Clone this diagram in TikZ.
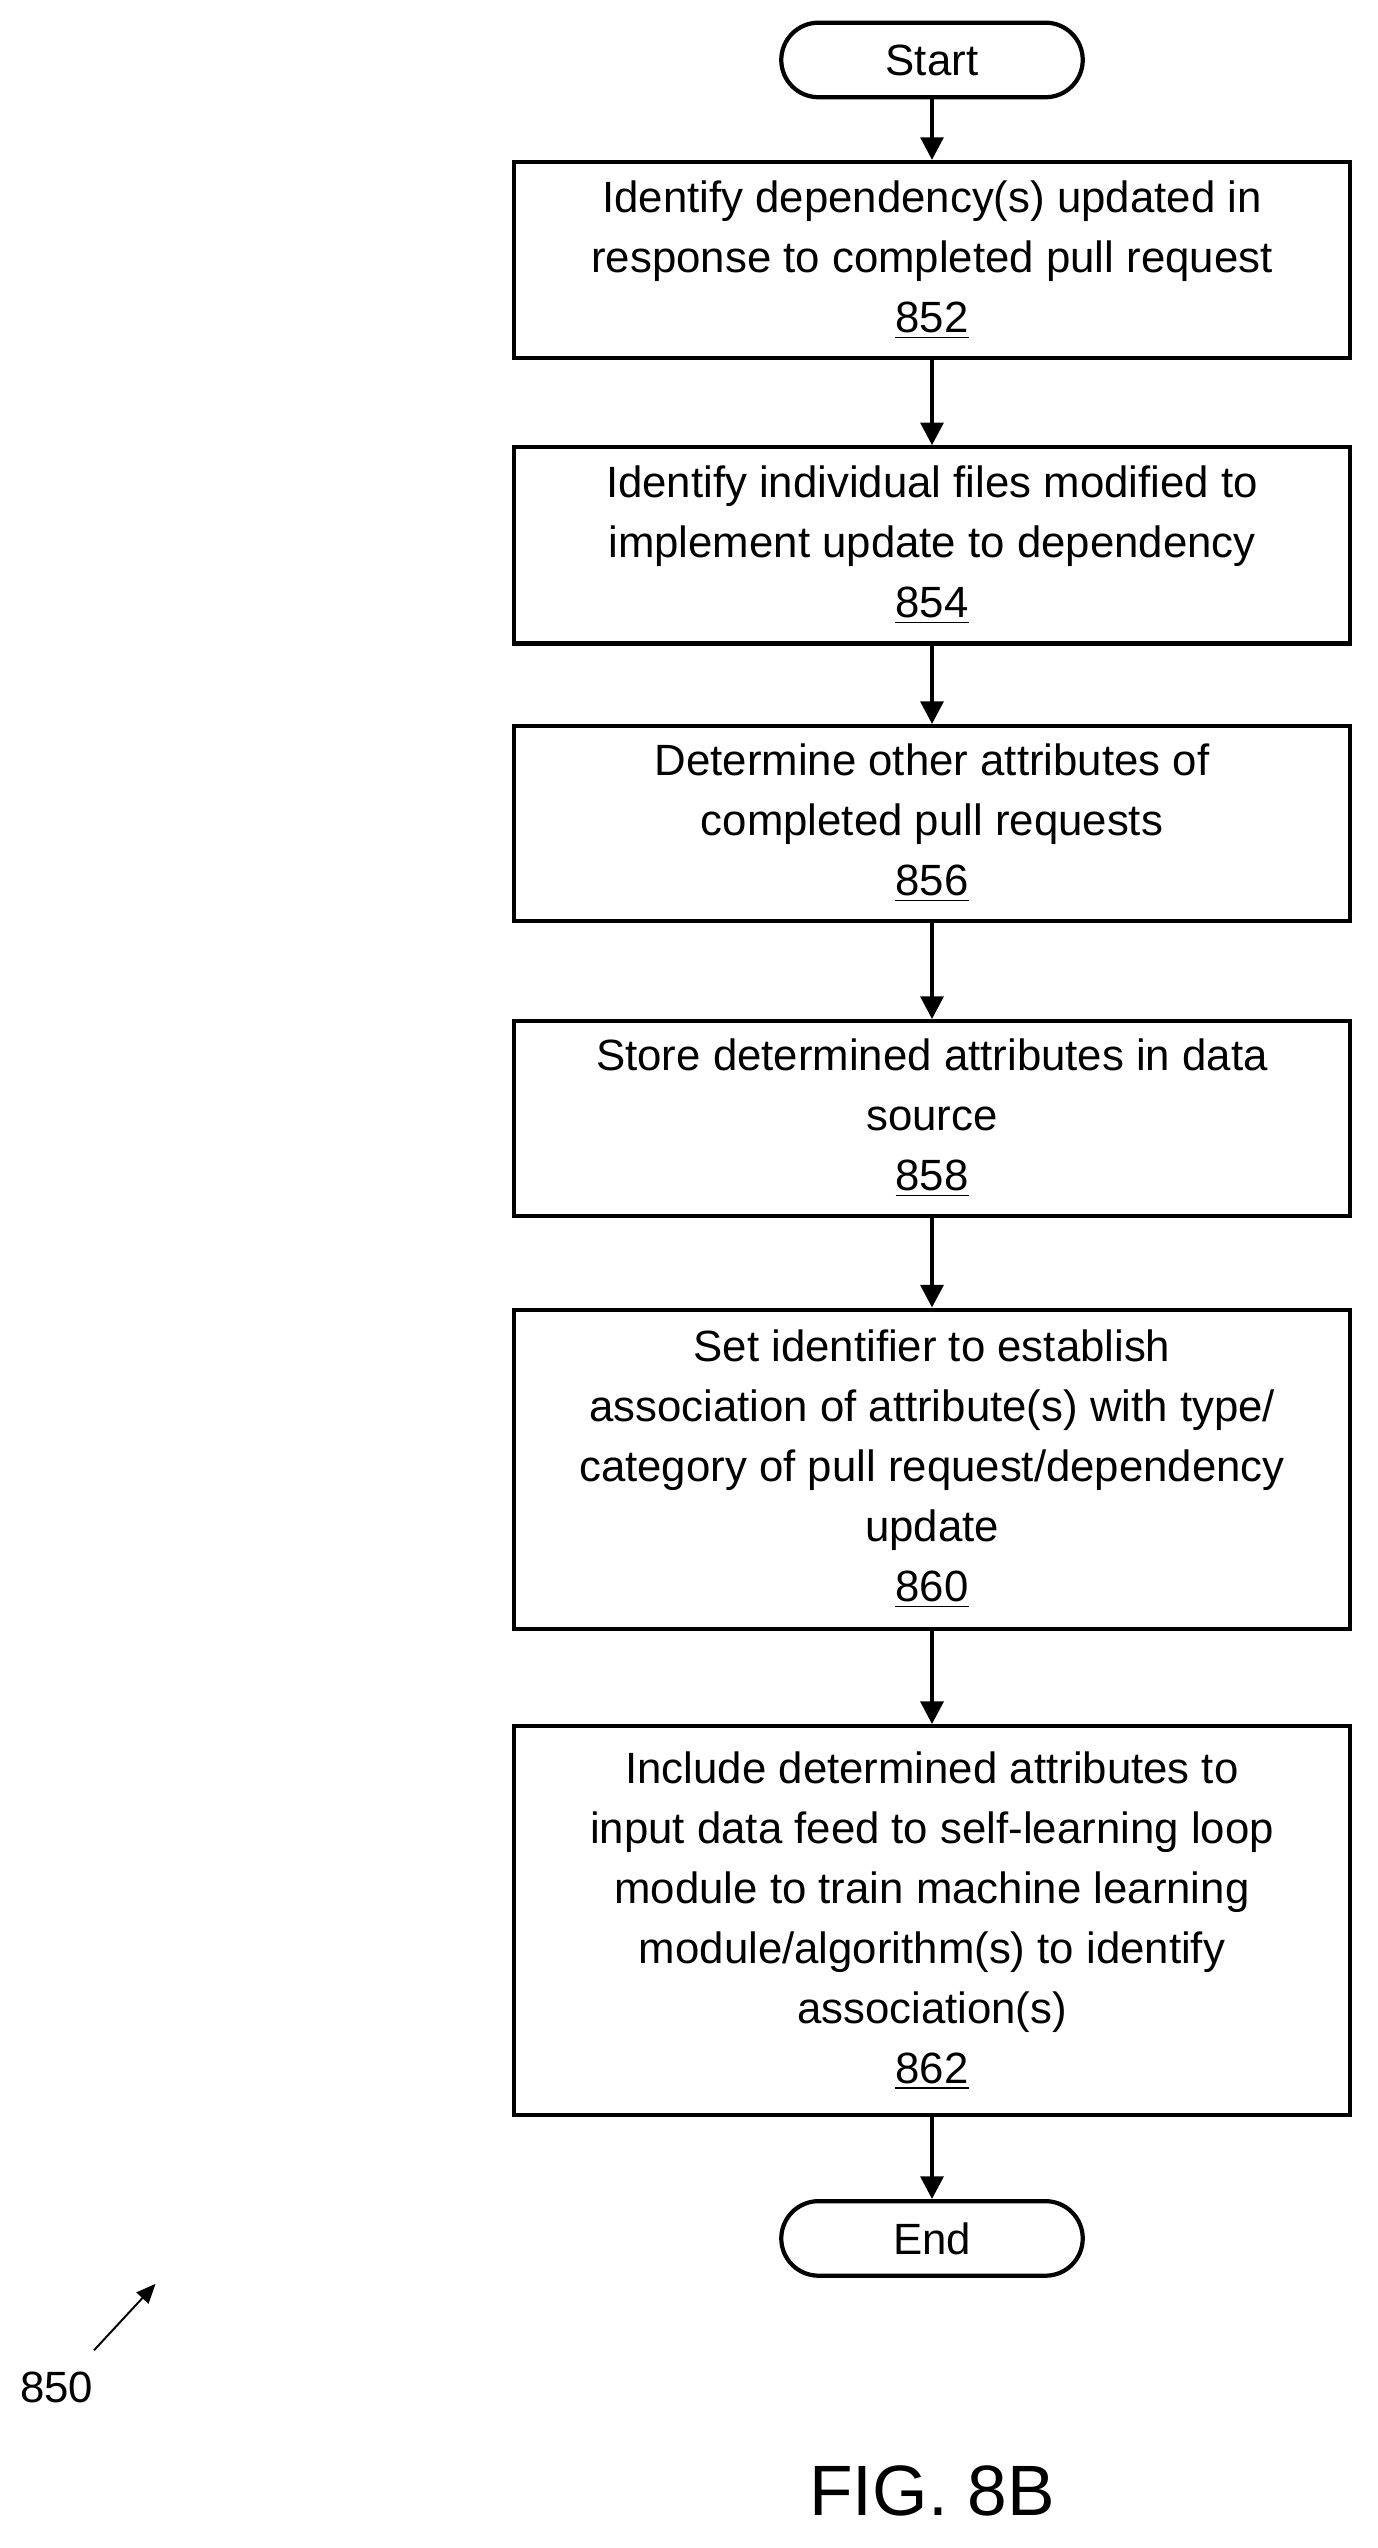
\documentclass[tikz,border=0pt]{standalone}
\usepackage{fontspec}
\setmainfont{Liberation Sans}
\usetikzlibrary{arrows.meta}
\begin{document}
\begin{tikzpicture}[x=0.5pt,y=-0.5pt,
  box/.style={draw,line width=1.3pt,minimum width=258pt,align=center,font=\fontsize{13.5}{18.5}\selectfont,inner sep=0pt},
  term/.style={draw,line width=1.3pt,rounded corners=11.5pt,minimum width=93pt,minimum height=23pt,font=\fontsize{13.5}{16}\selectfont,inner sep=0pt},
  arr/.style={line width=1.3pt,-{Triangle[length=7pt,width=7pt]}}]
\useasboundingbox (0,0) rectangle (850,1572);
\node[term] (s) at (575,37) {Start};
\node[box,minimum height=60.5pt] (a) at (575,160.5) {Identify dependency(s) updated in\\response to completed pull request\\\underline{852}};
\node[box,minimum height=60.5pt] (b) at (575,336.5) {Identify individual files modified to\\implement update to dependency\\\underline{854}};
\node[box,minimum height=60pt] (c) at (575,508) {Determine other attributes of\\completed pull requests\\\underline{856}};
\node[box,minimum height=60pt] (d) at (575,690) {Store determined attributes in data\\source\\\underline{858}};
\node[box,minimum height=98.5pt] (e) at (575,906.5) {Set identifier to establish\\association of attribute(s) with type/\\category of pull request/dependency\\update\\\underline{860}};
\node[box,minimum height=120pt] (f) at (575,1185) {Include determined attributes to\\input data feed to self-learning loop\\module to train machine learning\\module/algorithm(s) to identify\\association(s)\\\underline{862}};
\node[term] (g) at (575,1381) {End};
\draw[arr] (s) -- (a);
\draw[arr] (a) -- (b);
\draw[arr] (b) -- (c);
\draw[arr] (c) -- (d);
\draw[arr] (d) -- (e);
\draw[arr] (e) -- (f);
\draw[arr] (f) -- (g);
\node[font=\fontsize{13.5}{16}\selectfont] (n) at (35,1473) {850};
\coordinate (p1) at (58,1450);
\coordinate (p2) at (96,1409);
\draw[line width=0.6pt,-{Triangle[length=6pt,width=5pt]}] (p1) -- (p2);
\node[font=\fontsize{22}{26}\selectfont] (fig) at (575,1537) {FIG. 8B};
\end{tikzpicture}
\end{document}
